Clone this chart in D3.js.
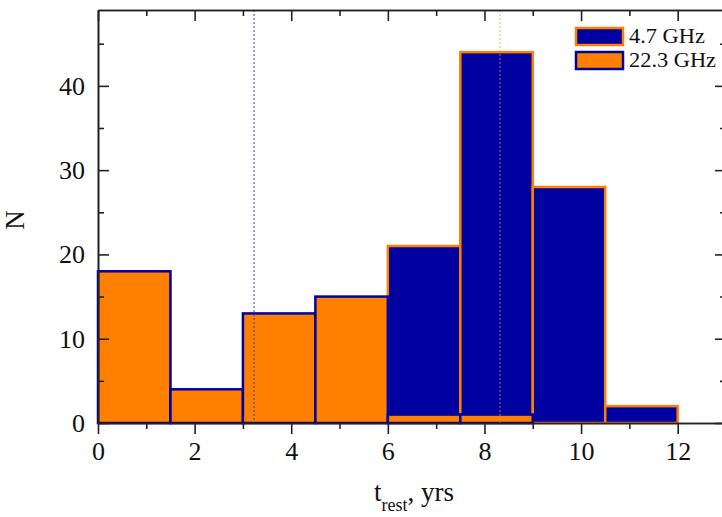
<!DOCTYPE html>
<html>
<head>
<meta charset="utf-8">
<script src="https://cdn.jsdelivr.net/npm/d3@7"></script>
<style>
  html, body { margin: 0; padding: 0; background: #fff; }
  svg { display: block; }
  text { font-family: "Liberation Serif", "DejaVu Serif", serif; fill: #111; }
</style>
</head>
<body>
<svg id="chart" width="722" height="517"></svg>
<script>
// Histogram bin edges (t_rest, years)
const binEdges = [0, 1.5, 3, 4.5, 6, 7.5, 9, 10.5, 12];
// Counts per bin
const counts47 = [0, 0, 0, 0, 21, 44, 28, 2];   // 4.7 GHz
const counts223 = [18, 4, 13, 15, 1, 1, 0, 0];  // 22.3 GHz
// Mean values marked by dotted lines
const mean223 = 3.23;
const mean47 = 8.32;
// Tick values
const xMajorTicks = [0, 2, 4, 6, 8, 10, 12];
const xMinorTicks = [1, 3, 5, 7, 9, 11];
const yMajorTicks = [0, 10, 20, 30, 40];
const yMinorTicks = [5, 15, 25, 35, 45];
const seriesNames = ["4.7 GHz", "22.3 GHz"];

const NAVY = "#0000a0";
const ORANGE = "#ff8000";

const svg = d3.select("#chart");
const plotL = 98, plotT = 10, plotR = 726, plotB = 423;

const x = d3.scaleLinear().domain([0, 13]).range([plotL, plotR]);
const y = d3.scaleLinear().domain([0, 49]).range([plotB, plotT]);

function bins(counts) {
  return counts.map((c, i) => ({ x0: binEdges[i], x1: binEdges[i + 1], n: c })).filter(d => d.n > 0);
}

// 4.7 GHz bars (underneath)
svg.append("g").selectAll("rect").data(bins(counts47)).join("rect")
  .attr("x", d => x(d.x0))
  .attr("y", d => y(d.n))
  .attr("width", d => x(d.x1) - x(d.x0))
  .attr("height", d => y(0) - y(d.n))
  .attr("fill", NAVY)
  .attr("stroke", ORANGE)
  .attr("stroke-width", 2.5);

// 22.3 GHz bars (on top)
svg.append("g").selectAll("rect").data(bins(counts223)).join("rect")
  .attr("x", d => x(d.x0))
  .attr("y", d => y(d.n))
  .attr("width", d => x(d.x1) - x(d.x0))
  .attr("height", d => y(0) - y(d.n))
  .attr("fill", ORANGE)
  .attr("stroke", NAVY)
  .attr("stroke-width", 2.5);

// Mean markers
svg.append("line")
  .attr("x1", x(mean223)).attr("x2", x(mean223))
  .attr("y1", y(49)).attr("y2", y(0))
  .attr("stroke", "#3c3cd8").attr("stroke-opacity", 0.85)
  .attr("stroke-width", 1.2).attr("stroke-dasharray", "2,2");
svg.append("line")
  .attr("x1", x(mean47)).attr("x2", x(mean47))
  .attr("y1", y(49)).attr("y2", y(0))
  .attr("stroke", "#ff9030").attr("stroke-opacity", 0.6)
  .attr("stroke-width", 1.2).attr("stroke-dasharray", "2,2");

// Axes (ticks on all four sides)
const major = 11, minor = 6;
function mk(axisFn, scale, vals, size, fmt) {
  return axisFn(scale).tickValues(vals).tickSizeInner(size).tickSizeOuter(0).tickFormat(fmt);
}
function styleAxis(g) {
  g.attr("font-family", "Liberation Serif, serif").attr("font-size", 26);
  g.selectAll("path.domain").attr("stroke", "#222").attr("stroke-width", 1.6);
  g.selectAll(".tick line").attr("stroke", "#222").attr("stroke-width", 1.6);
  g.selectAll(".tick text").attr("fill", "#111");
}
const fmt = d3.format("d");

svg.append("g").attr("transform", `translate(0,${plotB})`)
  .call(mk(d3.axisBottom, x, xMajorTicks, major, fmt).tickPadding(8)).call(styleAxis);
svg.append("g").attr("transform", `translate(0,${plotB})`)
  .call(mk(d3.axisBottom, x, xMinorTicks, minor, "")).call(styleAxis);
svg.append("g").attr("transform", `translate(0,${plotT})`)
  .call(mk(d3.axisBottom, x, xMajorTicks, major, "")).call(styleAxis);
svg.append("g").attr("transform", `translate(0,${plotT})`)
  .call(mk(d3.axisBottom, x, xMinorTicks, minor, "")).call(styleAxis);
svg.append("g").attr("transform", `translate(${plotL},0)`)
  .call(mk(d3.axisRight, y, yMajorTicks, major, "")).call(styleAxis);
svg.append("g").attr("transform", `translate(${plotL},0)`)
  .call(mk(d3.axisRight, y, yMinorTicks, minor, "")).call(styleAxis);
svg.append("g").attr("transform", `translate(${plotL},0)`)
  .call(mk(d3.axisLeft, y, yMajorTicks, 0, fmt).tickPadding(13)).call(styleAxis)
  .select("path.domain").remove();
svg.append("g").attr("transform", `translate(${plotR},0)`)
  .call(mk(d3.axisLeft, y, yMajorTicks, major, "")).call(styleAxis);
svg.append("g").attr("transform", `translate(${plotR},0)`)
  .call(mk(d3.axisLeft, y, yMinorTicks, minor, "")).call(styleAxis);

// Axis titles
svg.append("text")
  .attr("transform", "translate(24,220) rotate(-90)")
  .attr("text-anchor", "middle")
  .attr("font-size", 27)
  .text("N");

const xt = svg.append("text")
  .attr("x", 414).attr("y", 501)
  .attr("text-anchor", "middle")
  .attr("font-size", 27);
xt.append("tspan").text("t");
xt.append("tspan").attr("font-size", 18).attr("dy", 10).text("rest");
xt.append("tspan").attr("dy", -10).text(", yrs");

// Legend
const legend = svg.append("g");
const legendItems = [
  { name: seriesNames[0], fill: NAVY, stroke: ORANGE },
  { name: seriesNames[1], fill: ORANGE, stroke: NAVY }
];
legendItems.forEach((d, i) => {
  const gy = 28 + i * 24;
  legend.append("rect")
    .attr("x", 576).attr("y", gy).attr("width", 47).attr("height", 17)
    .attr("fill", d.fill).attr("stroke", d.stroke).attr("stroke-width", 2.5);
  legend.append("text")
    .attr("transform", `translate(629,${gy + 15}) scale(1.12,1)`)
    .attr("font-size", 20)
    .text(d.name);
});
</script>
</body>
</html>
